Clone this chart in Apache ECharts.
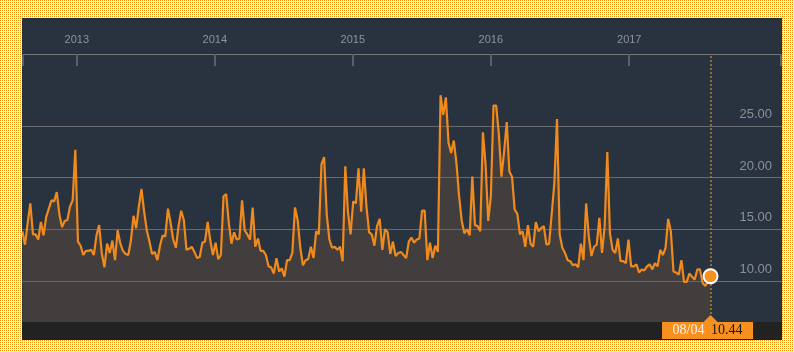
<!DOCTYPE html>
<html>
<head>
<meta charset="utf-8">
<script src="https://cdn.jsdelivr.net/npm/echarts@6/dist/echarts.min.js"></script>
<style>
  html, body { margin: 0; padding: 0; }
  #wrap { position: relative; width: 794px; height: 352px; }
  #panel { position: absolute; left: 22px; top: 18px; width: 760px; height: 322px; background: #29333f; }
  #bar { position: absolute; left: 22px; top: 322px; width: 760px; height: 18px; background: #222222; }
  #main { position: absolute; left: 0; top: 0; width: 794px; height: 352px; }
</style>
</head>
<body>
<div id="wrap">
  <div id="panel"></div>
  <div id="bar"></div>
  <div id="main"></div>
</div>
<script>
// weekly closes (last week = 08/04/2017)
const lastDay = '2017-08-04'
const values = [
  14.8, 13.5, 15.6, 17.5, 14.5, 14.5, 14.0, 15.7, 14.4, 16.2,
  17.0, 17.8, 17.7, 18.6, 16.4, 15.2, 15.8, 15.9, 17.2, 17.8,
  22.7, 13.8, 13.4, 12.5, 12.9, 12.9, 13.0, 12.5, 14.4, 15.4,
  12.7, 11.3, 13.6, 12.7, 13.9, 12.0, 14.9, 13.6, 12.9, 12.6,
  12.5, 13.9, 16.3, 15.1, 17.2, 18.9, 16.7, 14.9, 13.8, 12.6,
  12.8, 12.0, 13.4, 14.4, 14.3, 17.0, 15.6, 14.0, 13.2, 15.3,
  16.8, 15.9, 13.0, 13.1, 13.3, 12.8, 12.2, 12.3, 13.7, 13.8,
  15.7, 13.9, 12.5, 13.7, 12.1, 12.5, 18.2, 18.4, 15.6, 13.6,
  14.7, 14.0, 14.1, 17.8, 14.9, 14.5, 14.0, 17.1, 13.3, 14.1,
  12.9, 12.9, 12.5, 11.4, 11.3, 10.7, 12.2, 10.9, 11.2, 10.4,
  12.0, 12.0, 12.7, 17.1, 15.9, 13.2, 11.5, 12.0, 12.1, 13.3,
  12.2, 14.8, 14.5, 21.3, 22.0, 16.4, 14.0, 13.2, 13.3, 13.0,
  13.3, 11.9, 21.1, 16.7, 14.5, 17.7, 17.5, 20.9, 16.7, 20.9,
  17.2, 14.7, 14.5, 13.4, 15.3, 16.0, 13.0, 15.0, 14.7, 12.6,
  13.8, 12.4, 12.7, 12.8, 12.5, 12.2, 13.8, 14.2, 13.7, 14.0,
  14.1, 16.8, 16.8, 12.0, 13.7, 12.2, 13.4, 12.8, 28.0, 26.1,
  27.8, 23.4, 22.4, 23.6, 21.4, 18.2, 15.8, 14.6, 15.0, 14.4,
  20.1, 15.4, 15.3, 14.8, 24.4, 21.3, 15.8, 18.2, 27.0, 27.0,
  24.3, 20.1, 22.5, 25.4, 20.6, 20.1, 16.9, 16.5, 14.5, 14.8,
  13.3, 15.4, 13.6, 13.3, 15.7, 14.8, 15.1, 15.3, 13.5, 13.6,
  16.5, 19.5, 25.7, 14.5, 13.2, 12.7, 12.0, 11.9, 11.5, 11.6,
  11.3, 13.6, 12.0, 17.5, 14.3, 12.4, 13.3, 13.5, 16.1, 12.7,
  15.3, 22.5, 14.6, 13.0, 12.7, 14.1, 11.9, 11.9, 11.7, 14.0,
  11.4, 11.4, 11.6, 10.8, 11.1, 11.0, 11.4, 11.6, 11.1, 11.7,
  11.4, 13.0, 12.5, 13.2, 16.0, 14.8, 10.9, 10.8, 10.6, 12.0,
  9.9, 9.9, 10.7, 10.4, 10.1, 11.1, 11.1, 9.8, 9.5, 9.9,
  10.44
]
const yTicks = [10, 15, 20, 25]
const yearLabels = ['2013-01-01', '2014-01-01', '2015-01-01', '2016-01-01', '2017-01-01']
const axisStart = '2012-08-09'
const axisEnd = '2018-02-09'

const WEEK = 7 * 24 * 3600 * 1000
const lastTime = +new Date(lastDay)
const dates = values.map((v, i) => lastTime - (values.length - 1 - i) * WEEK)
const seriesData = values.map((v, i) => [dates[i], v])
const lastDate = dates[dates.length - 1]
const lastValue = values[values.length - 1]
const yMin = 6
const yMax = 32

// dotted orange backdrop
const tile = document.createElement('canvas')
tile.width = 2
tile.height = 2
const tctx = tile.getContext('2d')
tctx.fillStyle = '#ffffff'
tctx.fillRect(0, 0, 2, 2)
tctx.fillStyle = '#f28e0c'
tctx.fillRect(0, 0, 1, 1)
document.getElementById('wrap').style.backgroundImage = 'url(' + tile.toDataURL() + ')'

const pad = n => (n < 10 ? '0' : '') + n
const d = new Date(lastDate)
const tagText = pad(d.getUTCMonth() + 1) + '/' + pad(d.getUTCDate())

const xMin = +new Date(axisStart)
const xMax = +new Date(axisEnd)
const yearTimes = yearLabels.map(s => +new Date(s))
const tickTimes = [xMin + 864e5].concat(yearTimes, [xMax - 864e5 * 4])

let myChart = echarts.init(document.getElementById('main'))
let option = {
    backgroundColor: 'transparent',
    animation: false,
    grid: { left: 22, right: 12, top: 54, bottom: 30 },
    xAxis: {
        type: 'value',
        position: 'top',
        min: xMin,
        max: xMax,
        axisLine: { lineStyle: { color: '#74777a', width: 1 } },
        axisTick: {
            inside: true, length: 12,
            customValues: tickTimes,
            lineStyle: { color: '#5c6166', width: 2 }
        },
        axisLabel: {
            customValues: yearTimes,
            formatter: v => String(new Date(v).getUTCFullYear()),
            color: '#8c9399',
            fontSize: 11,
            fontFamily: 'Liberation Sans',
            margin: 9
        },
        splitLine: { show: false }
    },
    yAxis: {
        type: 'value',
        position: 'right',
        min: yMin,
        max: yMax,
        splitNumber: 5,
        axisLine: { show: false },
        axisTick: { show: false },
        axisLabel: {
            inside: true,
            margin: 10,
            color: '#8a9097',
            fontSize: 13,
            fontFamily: 'Liberation Sans',
            verticalAlign: 'bottom',
            padding: [0, 0, 5, 0],
            showMinLabel: false,
            showMaxLabel: false,
            formatter: v => (yTicks.indexOf(v) >= 0 ? v.toFixed(2) : '')
        },
        splitLine: {
            showMinLine: false,
            showMaxLine: false,
            lineStyle: { color: ['#676b70', '#676b70', '#676b70', '#676b70', 'rgba(0,0,0,0)'], width: 1.2 }
        }
    },
    series: [{
        type: 'line',
        data: seriesData,
        showSymbol: false,
        lineStyle: { color: '#f08a1d', width: 2.2 },
        areaStyle: { color: 'rgba(118,88,58,0.45)', origin: 'start' },
        markLine: {
            silent: true,
            symbol: 'none',
            label: { show: false },
            lineStyle: { color: '#b0832a', type: [2, 2], width: 1.5 },
            data: [{ xAxis: lastDate }]
        },
        markPoint: {
            silent: true,
            data: [{
                coord: [lastDate, yMin],
                symbol: 'triangle',
                symbolSize: [14, 7],
                symbolOffset: [0, -3.5],
                itemStyle: { color: '#f7901e' },
                label: { show: false }
            }, {
                coord: [lastDate, yMin],
                symbol: 'rect',
                symbolSize: [91, 17],
                symbolOffset: [-3, 8.5],
                itemStyle: { color: '#f7901e' },
                label: {
                    show: true,
                    position: 'inside',
                    formatter: '{d|' + tagText + '}  {v|' + lastValue.toFixed(2) + '}',
                    rich: {
                        d: { color: '#fff3e6', fontSize: 14, fontFamily: 'Liberation Serif' },
                        v: { color: '#161616', fontSize: 14, fontFamily: 'Liberation Serif' }
                    }
                }
            }, {
                coord: [lastDate, lastValue],
                symbol: 'circle',
                symbolSize: 14,
                itemStyle: { color: '#f7901e', borderColor: '#ffffff', borderWidth: 2 },
                label: { show: false }
            }]
        }
    }]
}
myChart.setOption(option)
</script>
</body>
</html>
